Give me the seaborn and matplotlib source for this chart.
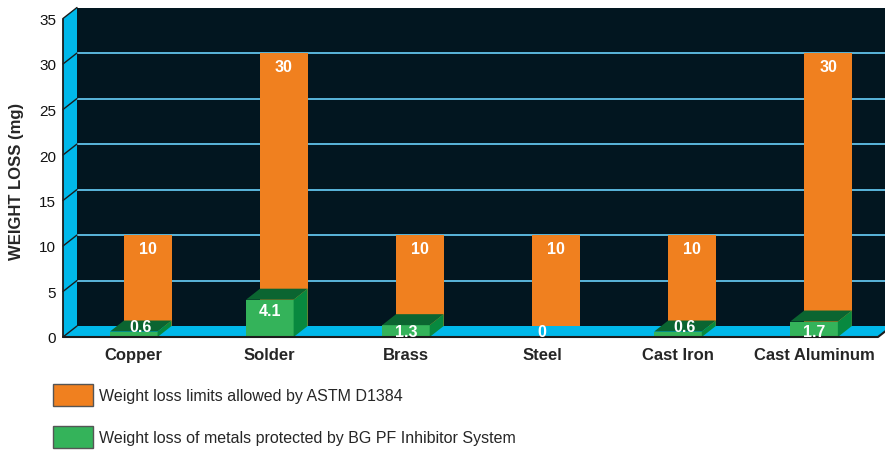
import numpy as np
import seaborn as sns
import matplotlib.pyplot as plt
from matplotlib.patches import Polygon, Patch

# data
metals = ['Copper', 'Solder', 'Brass', 'Steel', 'Cast Iron', 'Cast Aluminum']
astm_limit = [10, 30, 10, 10, 10, 30]
bg_pf_loss = [0.6, 4.1, 1.3, 0, 0.6, 1.7]
y_ticks = [0, 5, 10, 15, 20, 25, 30, 35]
legend_labels = ['Weight loss limits allowed by ASTM D1384',
                 'Weight loss of metals protected by BG PF Inhibitor System']

orange = '#F0801F'
green_front = '#34B35A'
green_top = '#0B6531'
green_side = '#08893F'
navy = '#021620'
cyan = '#00B8EA'
grid_blue = '#5AB6DC'
edge = '#1c1c1c'

sns.set_style('white')
plt.rcParams['font.family'] = ['Liberation Sans', 'DejaVu Sans']

W, H = 885, 464
left_px, base_px, width_px, height_px = 63, 338, 815, 318.5
DX, DY = 14, 11  # depth offset of the back wall in pixels
xlim = (-0.52, 5.47)
ylim = (0, 35)

fig = plt.figure(figsize=(W / 100, H / 100), dpi=100)
ax_back = fig.add_axes([(left_px + DX) / W, (H - base_px + DY) / H, width_px / W, height_px / H])
ax = fig.add_axes([left_px / W, (H - base_px) / H, width_px / W, height_px / H])

# depth offset in data units of the front plane
ddx = DX / width_px * (xlim[1] - xlim[0])
ddy = DY / height_px * (ylim[1] - ylim[0])

# ---- back wall: orange limit bars ----
sns.barplot(x=metals, y=astm_limit, ax=ax_back, color=orange, width=0.35,
            saturation=1, linewidth=0, errorbar=None, zorder=3)
ax_back.set_facecolor(navy)
ax_back.set_xlim(*xlim)
ax_back.set_ylim(*ylim)
ax_back.set_yticks(y_ticks[1:-1])
ax_back.yaxis.grid(True, color=grid_blue, lw=1.4)
ax_back.set_axisbelow(True)
ax_back.tick_params(left=False, bottom=False, labelleft=False, labelbottom=False)
ax_back.set_xlabel('')
ax_back.set_ylabel('')
for s in ax_back.spines.values():
    s.set_visible(False)
for i, v in enumerate(astm_limit):
    ax_back.text(i, v - 1.45, str(v), color='white', fontsize=11.5, fontweight='bold',
                 ha='center', va='center', zorder=4)

# ---- front: walls, floor and green boxes ----
ax.set_facecolor('none')
x0, x1 = xlim
ax.add_patch(Polygon([(x0, 0), (x0, ylim[1]), (x0 + ddx, ylim[1] + ddy), (x0 + ddx, ddy)],
                     closed=True, fc=cyan, ec='none', clip_on=False, zorder=0.5))
ax.add_patch(Polygon([(x0, 0), (x1, 0), (x1 + ddx, ddy), (x0 + ddx, ddy)],
                     closed=True, fc=cyan, ec='none', clip_on=False, zorder=0.5))
for t in y_ticks:
    ax.plot([x0, x0 + ddx], [t, t + ddy], color=edge, lw=1, clip_on=False, zorder=0.8)
ax.plot([x0, x0], [0, ylim[1]], color=edge, lw=1.3, clip_on=False, zorder=0.8)
ax.plot([x0, x1, x1 + ddx], [0, 0, ddy], color=edge, lw=1.5, clip_on=False, zorder=5)

sns.barplot(x=metals, y=bg_pf_loss, ax=ax, color=green_front, width=0.35,
            saturation=1, linewidth=0, errorbar=None, zorder=2)
w = 0.35
for i, v in enumerate(bg_pf_loss):
    if v == 0:
        ax.text(i, 0.55, '0', color='white', fontsize=11.5, fontweight='bold',
                ha='center', va='center', zorder=6)
        continue
    a, b = i - w / 2, i + w / 2
    ax.add_patch(Polygon([(a, v), (b, v), (b + ddx, v + ddy), (a + ddx, v + ddy)],
                         closed=True, fc=green_top, ec='none', clip_on=False, zorder=2))
    ax.add_patch(Polygon([(b, 0), (b + ddx, ddy), (b + ddx, v + ddy), (b, v)],
                         closed=True, fc=green_side, ec='none', clip_on=False, zorder=2))
    if v < 1:
        ax.text(i + ddx / 2, v + ddy / 2, str(v), color='white', fontsize=11.5,
                fontweight='bold', ha='center', va='center', zorder=6)
    else:
        ax.text(i, max(v - 1.2, 0.55), str(v), color='white', fontsize=11.5,
                fontweight='bold', ha='center', va='center', zorder=6)

ax.set_xlim(*xlim)
ax.set_ylim(*ylim)
ax.set_yticks(y_ticks)
ax.tick_params(axis='y', length=0, pad=5, labelsize=11, labelcolor='#111111')
ax.tick_params(axis='x', length=0, pad=7)
for lab in ax.get_xticklabels():
    lab.set_fontweight('bold')
    lab.set_fontsize(12)
for s in ax.spines.values():
    s.set_visible(False)
ax.set_ylabel('WEIGHT LOSS (mg)', fontsize=12, fontweight='bold')
ax.yaxis.label.set_va('center')
ax.yaxis.set_label_coords((17 - left_px) / width_px, (base_px - 181) / height_px)

handles = [Patch(fc=orange, ec='#555555', lw=1), Patch(fc=green_front, ec='#555555', lw=1)]
fig.legend(handles, legend_labels, loc='upper left', bbox_to_anchor=(53 / W, 1 - 385 / H),
           frameon=False, fontsize=11.5, handlelength=2.5, handleheight=1.75,
           handletextpad=0.35, labelspacing=1.25, borderpad=0, borderaxespad=0)

fig.savefig('out.png', dpi=100)
